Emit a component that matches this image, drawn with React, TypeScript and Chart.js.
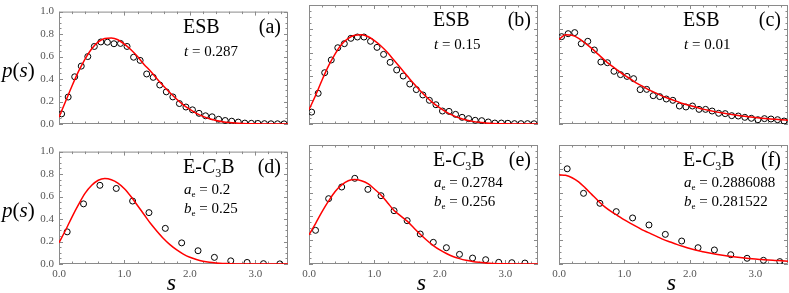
import React, { useEffect, useRef } from "react";
import { Chart, registerables } from "chart.js";
Chart.register(...registerables);

// ---------- data ----------
const curveS = [0, 0.1, 0.2, 0.3, 0.4, 0.5, 0.6, 0.7, 0.8, 0.9, 1.0, 1.1, 1.2, 1.3, 1.4, 1.5, 1.6, 1.7, 1.8, 1.9, 2.0, 2.1, 2.2, 2.3, 2.4, 2.5, 2.6, 2.7, 2.8, 2.9, 3.0, 3.1, 3.2, 3.3, 3.4, 3.5];

const curveA = [0.06, 0.2, 0.34, 0.47, 0.58, 0.67, 0.73, 0.76, 0.765, 0.75, 0.71, 0.66, 0.6, 0.53, 0.47, 0.4, 0.335, 0.275, 0.22, 0.17, 0.13, 0.095, 0.068, 0.047, 0.032, 0.021, 0.013, 0.008, 0.005, 0.003, 0.002, 0.001, 0, 0, 0, 0];
const curveB = [0.12, 0.24, 0.37, 0.49, 0.59, 0.67, 0.72, 0.745, 0.75, 0.735, 0.7, 0.655, 0.6, 0.535, 0.47, 0.405, 0.34, 0.28, 0.225, 0.175, 0.135, 0.1, 0.072, 0.05, 0.034, 0.022, 0.014, 0.009, 0.005, 0.003, 0.002, 0.001, 0, 0, 0, 0];
const curveC = [0.71, 0.75, 0.745, 0.72, 0.68, 0.635, 0.585, 0.535, 0.49, 0.45, 0.41, 0.375, 0.34, 0.31, 0.28, 0.255, 0.23, 0.21, 0.19, 0.17, 0.155, 0.14, 0.125, 0.113, 0.102, 0.092, 0.083, 0.075, 0.067, 0.06, 0.054, 0.049, 0.044, 0.039, 0.035, 0.032];
const curveD = [0.19, 0.3, 0.42, 0.53, 0.63, 0.7, 0.745, 0.76, 0.75, 0.72, 0.67, 0.6, 0.52, 0.44, 0.36, 0.29, 0.225, 0.17, 0.125, 0.088, 0.06, 0.04, 0.025, 0.015, 0.009, 0.005, 0.003, 0.001, 0, 0, 0, 0, 0, 0, 0, 0];
const curveE = [0.245, 0.34, 0.44, 0.53, 0.61, 0.665, 0.7, 0.71, 0.7, 0.675, 0.63, 0.58, 0.515, 0.45, 0.405, 0.36, 0.305, 0.25, 0.2, 0.155, 0.118, 0.088, 0.063, 0.045, 0.031, 0.021, 0.014, 0.009, 0.005, 0.003, 0.002, 0.001, 0, 0, 0, 0];
const curveF = [0.75, 0.745, 0.725, 0.69, 0.64, 0.585, 0.53, 0.48, 0.44, 0.405, 0.37, 0.34, 0.31, 0.28, 0.255, 0.23, 0.205, 0.185, 0.165, 0.147, 0.13, 0.115, 0.103, 0.092, 0.082, 0.073, 0.065, 0.058, 0.052, 0.046, 0.041, 0.037, 0.033, 0.03, 0.027, 0.024];

const esbX = [0.04, 0.14, 0.24, 0.34, 0.44, 0.54, 0.64, 0.74, 0.84, 0.94, 1.04, 1.14, 1.24, 1.34, 1.44, 1.54, 1.64, 1.74, 1.84, 1.94, 2.04, 2.14, 2.24, 2.34, 2.44, 2.54, 2.64, 2.74, 2.84, 2.94, 3.04, 3.14, 3.24, 3.34, 3.44];
const pointsA = [0.09, 0.24, 0.42, 0.515, 0.6, 0.69, 0.73, 0.728, 0.714, 0.717, 0.69, 0.594, 0.566, 0.445, 0.415, 0.347, 0.286, 0.241, 0.182, 0.151, 0.126, 0.095, 0.073, 0.064, 0.042, 0.031, 0.025, 0.017, 0.008, 0.006, 0.005, 0.003, 0.002, 0.002, 0.001];
const pointsB = [0.1, 0.258, 0.431, 0.538, 0.641, 0.675, 0.72, 0.731, 0.731, 0.695, 0.644, 0.585, 0.518, 0.454, 0.403, 0.336, 0.289, 0.244, 0.199, 0.162, 0.109, 0.106, 0.081, 0.056, 0.045, 0.031, 0.028, 0.017, 0.008, 0.008, 0.006, 0.003, 0.003, 0.003, 0.002];
const pointsC = [0.734, 0.759, 0.768, 0.675, 0.695, 0.622, 0.521, 0.515, 0.443, 0.415, 0.4, 0.381, 0.289, 0.291, 0.238, 0.23, 0.21, 0.199, 0.151, 0.143, 0.151, 0.123, 0.123, 0.109, 0.09, 0.087, 0.07, 0.067, 0.056, 0.048, 0.036, 0.045, 0.042, 0.036, 0.025];

const quarterX = [0.125, 0.375, 0.625, 0.875, 1.125, 1.375, 1.625, 1.875, 2.125, 2.375, 2.625, 2.875, 3.125, 3.375];
const pointsD = [0.286, 0.535, 0.7, 0.672, 0.56, 0.457, 0.317, 0.188, 0.118, 0.059, 0.028, 0.014, 0.003, 0.001];
const fifthX = [0.1, 0.3, 0.5, 0.7, 0.9, 1.1, 1.3, 1.5, 1.7, 1.9, 2.1, 2.3, 2.5, 2.7, 2.9, 3.1, 3.3];
const pointsE = [0.283, 0.549, 0.647, 0.72, 0.627, 0.574, 0.448, 0.364, 0.252, 0.182, 0.137, 0.081, 0.05, 0.036, 0.014, 0.011, 0.008];
const pointsF = [0.8, 0.594, 0.51, 0.44, 0.387, 0.328, 0.249, 0.193, 0.137, 0.118, 0.078, 0.048, 0.031, 0.02];

const xTickValues = [0, 1, 2, 3];
const yTickValues = [0, 0.2, 0.4, 0.6, 0.8, 1.0];

// ---------- style ----------
const SERIF = '"Liberation Serif", "DejaVu Serif", serif';
const FRAME = "#8a8a8a";
const TICKTEXT = "#555555";
const RED = "#ff0000";

type Run = { t: string; italic?: boolean; sub?: boolean };

const COLS = [
  { canvasLeft: 0, width: 290, areaLeft: 59, areaRight: 288 },
  { canvasLeft: 290, width: 250, areaLeft: 309, areaRight: 538 },
  { canvasLeft: 540, width: 249, areaLeft: 559, areaRight: 788 },
];
const ROWS = [
  { canvasTop: 0, height: 140, areaTop: 5, areaBottom: 124 },
  { canvasTop: 140, height: 153, areaTop: 145, areaBottom: 264 },
];

const ESB_TITLE: Run[] = [{ t: "ESB" }];
const EC3B_TITLE: Run[] = [{ t: "E-" }, { t: "C", italic: true }, { t: "3", sub: true }, { t: "B" }];

const PANELS = [
  { row: 0, col: 0, title: ESB_TITLE, tag: "(a)", params: [[{ t: "t", italic: true }, { t: " = 0.287" }]], px: esbX, py: pointsA, cy: curveA },
  { row: 0, col: 1, title: ESB_TITLE, tag: "(b)", params: [[{ t: "t", italic: true }, { t: " = 0.15" }]], px: esbX, py: pointsB, cy: curveB },
  { row: 0, col: 2, title: ESB_TITLE, tag: "(c)", params: [[{ t: "t", italic: true }, { t: " = 0.01" }]], px: esbX, py: pointsC, cy: curveC },
  { row: 1, col: 0, title: EC3B_TITLE, tag: "(d)", params: [[{ t: "a", italic: true }, { t: "e", sub: true }, { t: " = 0.2" }], [{ t: "b", italic: true }, { t: "e", sub: true }, { t: " = 0.25" }]], px: quarterX, py: pointsD, cy: curveD },
  { row: 1, col: 1, title: EC3B_TITLE, tag: "(e)", params: [[{ t: "a", italic: true }, { t: "e", sub: true }, { t: " = 0.2784" }], [{ t: "b", italic: true }, { t: "e", sub: true }, { t: " = 0.256" }]], px: fifthX, py: pointsE, cy: curveE },
  { row: 1, col: 2, title: EC3B_TITLE, tag: "(f)", params: [[{ t: "a", italic: true }, { t: "e", sub: true }, { t: " = 0.2886088" }], [{ t: "b", italic: true }, { t: "e", sub: true }, { t: " = 0.281522" }]], px: quarterX, py: pointsF, cy: curveF },
];

function drawRuns(ctx: CanvasRenderingContext2D, x: number, y: number, runs: Run[], size: number, align: "left" | "right" = "left") {
  const fontFor = (r: Run) => `${r.italic ? "italic " : ""}${r.sub ? Math.round(size * 0.62) : size}px ${SERIF}`;
  let total = 0;
  for (const r of runs) {
    ctx.font = fontFor(r);
    total += ctx.measureText(r.t).width;
  }
  let cx = align === "right" ? x - total : x;
  ctx.textAlign = "left";
  ctx.textBaseline = "alphabetic";
  for (const r of runs) {
    ctx.font = fontFor(r);
    ctx.fillText(r.t, cx, r.sub ? y + size * 0.22 : y);
    cx += ctx.measureText(r.t).width;
  }
}

function Panel({ p }: { p: (typeof PANELS)[number] }) {
  const ref = useRef<HTMLCanvasElement | null>(null);
  const col = COLS[p.col];
  const row = ROWS[p.row];
  useEffect(() => {
    const canvas = ref.current!;
    const showY = p.col === 0;
    const showX = p.row === 1;

    const framePlugin = {
      id: "frame",
      beforeDatasetsDraw(chart: any) {
        const { ctx, chartArea } = chart;
        const { left, right, top, bottom } = chartArea;
        const xs = chart.scales.x;
        const ys = chart.scales.y;
        ctx.save();
        ctx.strokeStyle = FRAME;
        ctx.lineWidth = 1;
        ctx.beginPath();
        ctx.rect(left + 0.5, top + 0.5, right - left - 1, bottom - top - 1);
        ctx.stroke();
        ctx.beginPath();
        for (let i = 0; i <= 17; i++) {
          const v = i * 0.2;
          const major = i % 5 === 0;
          const len = major ? 4 : 2.5;
          const px = Math.round(xs.getPixelForValue(v)) + 0.5;
          ctx.moveTo(px, bottom);
          ctx.lineTo(px, bottom - len);
          ctx.moveTo(px, top);
          ctx.lineTo(px, top + len);
        }
        for (let i = 0; i <= 20; i++) {
          const v = i * 0.05;
          const major = i % 4 === 0;
          const len = major ? 4 : 2.5;
          const py = Math.round(ys.getPixelForValue(v)) + 0.5;
          ctx.moveTo(left, py);
          ctx.lineTo(left + len, py);
          ctx.moveTo(right, py);
          ctx.lineTo(right - len, py);
        }
        ctx.stroke();
        ctx.restore();
      },
      afterDraw(chart: any) {
        const { ctx, chartArea } = chart;
        const { left, right, top, bottom } = chartArea;
        ctx.save();
        ctx.fillStyle = "#000";
        drawRuns(ctx, left + 124, top + 21, p.title, 20);
        drawRuns(ctx, right - 7, top + 21, [{ t: p.tag }], 20, "right");
        p.params.forEach((runs: Run[], i: number) => {
          drawRuns(ctx, left + 125, top + (p.row === 0 ? 44 : 42) + i * 19, runs, 15);
        });
        if (showY) {
          drawRuns(ctx, 2, top + 65, [{ t: "p", italic: true }, { t: "(" }, { t: "s", italic: true }, { t: ")" }], 21);
        }
        if (showX) {
          ctx.font = `italic 24px ${SERIF}`;
          ctx.textAlign = "center";
          ctx.textBaseline = "alphabetic";
          ctx.fillText("s", (left + right) / 2 - 2, bottom + 26);
        }
        ctx.restore();
      },
    };

    const chart = new Chart(canvas, {
      type: "scatter",
      data: {
        datasets: [
          {
            type: "line",
            data: curveS.map((s, i) => ({ x: s, y: p.cy[i] })),
            borderColor: RED,
            borderWidth: 1.5,
            pointRadius: 0,
            cubicInterpolationMode: "monotone",
            fill: false,
          } as any,
          {
            type: "scatter",
            data: p.px.map((s: number, i: number) => ({ x: s, y: p.py[i] })),
            pointStyle: "circle",
            pointRadius: 3,
            borderColor: "#000",
            borderWidth: 1,
            backgroundColor: "rgba(0,0,0,0)",
          } as any,
        ],
      },
      options: {
        responsive: false,
        animation: false,
        devicePixelRatio: 1,
        layout: {
          autoPadding: false,
          padding: {
            top: row.areaTop - row.canvasTop,
            right: col.canvasLeft + col.width - col.areaRight,
            left: showY ? 0 : col.areaLeft - col.canvasLeft,
            bottom: showX ? 0 : row.canvasTop + row.height - row.areaBottom,
          },
        },
        plugins: { legend: { display: false }, tooltip: { enabled: false } },
        scales: {
          x: {
            type: "linear",
            min: 0,
            max: 3.5,
            display: showX,
            grid: { display: false, drawTicks: false },
            border: { display: false },
            afterBuildTicks: (scale: any) => {
              scale.ticks = xTickValues.map((v) => ({ value: v }));
            },
            afterFit: (scale: any) => {
              scale.height = showX ? row.canvasTop + row.height - row.areaBottom : 0;
            },
            ticks: {
              padding: 4,
              maxRotation: 0,
              color: TICKTEXT,
              font: { family: SERIF, size: 11 },
              callback: (v: any) => Number(v).toFixed(1),
            },
          },
          y: {
            type: "linear",
            min: 0,
            max: 1,
            display: showY,
            grid: { display: false, drawTicks: false },
            border: { display: false },
            afterBuildTicks: (scale: any) => {
              scale.ticks = yTickValues.map((v) => ({ value: v }));
            },
            afterFit: (scale: any) => {
              scale.width = showY ? col.areaLeft - col.canvasLeft : 0;
            },
            ticks: {
              padding: 5,
              color: TICKTEXT,
              font: { family: SERIF, size: 11 },
              callback: (v: any) => Number(v).toFixed(1),
            },
          },
        },
      } as any,
      plugins: [framePlugin],
    });
    return () => chart.destroy();
  }, []);
  return (
    <canvas
      ref={ref}
      width={col.width}
      height={row.height}
      style={{ position: "absolute", left: col.canvasLeft, top: row.canvasTop, width: col.width, height: row.height }}
    />
  );
}

export default function App() {
  return (
    <div style={{ position: "fixed", left: 0, top: 0, width: 789, height: 293, background: "#fff" }}>
      {PANELS.map((p, i) => (
        <Panel key={i} p={p} />
      ))}
    </div>
  );
}
